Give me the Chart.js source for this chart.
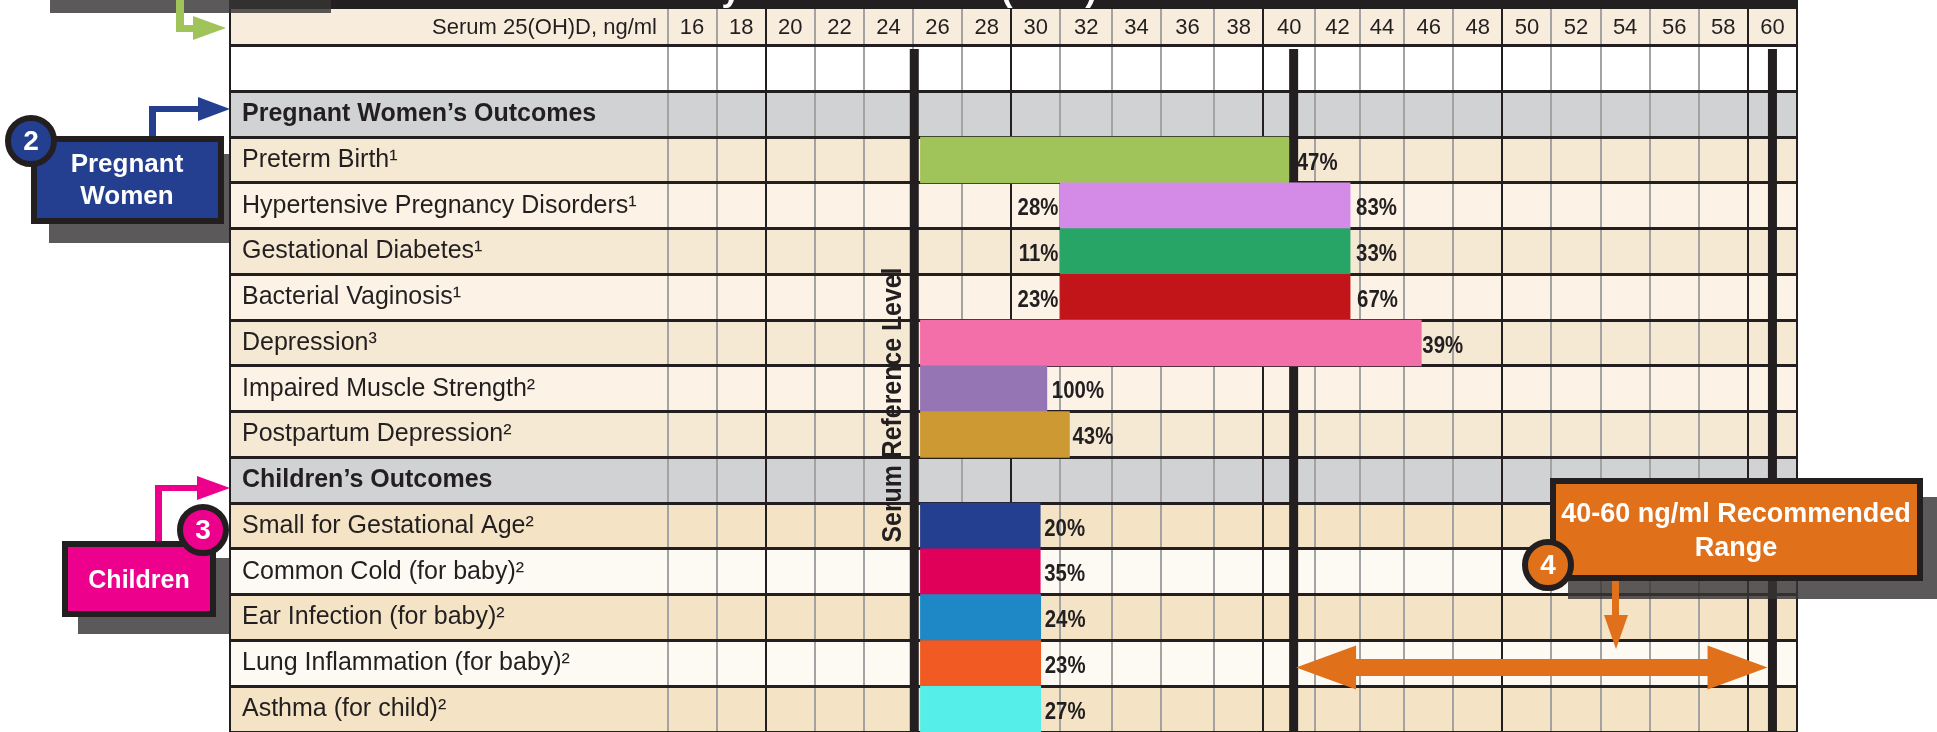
<!DOCTYPE html>
<html>
<head>
<meta charset="utf-8">
<title>Serum 25(OH)D outcomes</title>
<script src="https://cdn.jsdelivr.net/npm/chart.js@4/dist/chart.umd.js"></script>
<style>
  html, body { margin: 0; padding: 0; background: #fff; overflow: hidden; }
  canvas { display: block; }
</style>
</head>
<body>
<canvas id="myChart" width="1937" height="732"></canvas>
<script>
// rows top to bottom, blank first row under the header
const categories = [
  " ",
  "Pregnant Women’s Outcomes",
  "Preterm Birth¹",
  "Hypertensive Pregnancy Disorders¹",
  "Gestational Diabetes¹",
  "Bacterial Vaginosis¹",
  "Depression³",
  "Impaired Muscle Strength²",
  "Postpartum Depression²",
  "Children’s Outcomes",
  "Small for Gestational Age²",
  "Common Cold (for baby)²",
  "Ear Infection (for baby)²",
  "Lung Inflammation (for baby)²",
  "Asthma (for child)²",
];
const sectionRows = ["Pregnant Women’s Outcomes", "Children’s Outcomes"];

// the printed columns are slightly uneven between 32 and 44
const barStarts = [null, null, 25.3, 31, 31, 31, 25.3, 25.3, 25.3, null, 25.3, 25.3, 25.3, 25.3, 25.3];
const barEnds = [null, null, 40.3, 42.8, 42.8, 42.8, 45.7, 30.45, 31.37, null, 30.18, 30.18, 30.2, 30.2, 30.2];
const startLabels = ["", "", "", "28%", "11%", "23%", "", "", "", "", "", "", "", "", ""];
const endLabels = ["", "", "47%", "83%", "33%", "67%", "39%", "100%", "43%", "", "20%", "35%", "24%", "23%", "27%"];

const tickLabels = ["16", "18", "20", "22", "24", "26", "28", "30", "32", "34", "36", "38", "40", "42", "44", "46", "48", "50", "52", "54", "56", "58", "60"];
const tickCentres = [16, 18, 20, 22, 24, 26, 28, 30, 32.05, 34.1, 36.18, 38.26, 40.32, 42.29, 44.1, 46, 48, 50, 52, 54, 56, 58, 60];
const columnEdges = [15, 17, 19, 21, 23, 25, 27, 29, 31, 33.1, 35.1, 37.26, 39.26, 41.38, 43.2, 45, 47, 49, 51, 53, 55, 57, 59, 61];
const strongEdges = [19, 29, 39.26, 49, 59, 61];

const referenceLevels = [25.05, 40.5, 60];
const rangeStart = 40.6;
const rangeEnd = 59.8;

const barColors = ["", "", "#a1c45a", "#d48be8", "#27a567", "#c1151a", "#f26fa9", "#9575b4", "#cc9933", "", "#243f8f", "#e0005a", "#1e88c7", "#f15a22", "#56eee8"];
const rowColors = ["#ffffff", "#d0d2d4", "#f5e9d3", "#fcf3e6", "#f5e9d3", "#fcf3e6", "#f5e9d3", "#fcf3e6", "#f5e9d3", "#d0d2d4", "#f4e4c5", "#fdfaf3", "#f4e4c5", "#fdfaf3", "#f4e4c5"];
// gap between bar end and its percent label
const endLabelGaps = [0, 0, 8, 6, 6, 7, 1, 5, 3, 0, 4, 4, 4, 4, 4];

const INK = "#231f20";
const ORANGE = "#e0701a";
const BLUE = "#243f8f";
const PINK = "#ec008c";
const GREEN = "#a1c45a";
const SHADOW = "rgba(55,53,52,0.82)";
const SANS = "'Liberation Sans', Arial, sans-serif";
const TABLE_LEFT = 230;

// background of every row, and the header strip above the plot
const rowBands = {
  id: "rowBands",
  beforeDraw(chart) {
    const ctx = chart.ctx;
    const y = chart.scales.y;
    const x = chart.scales.x;
    const step = y.getPixelForValue(1) - y.getPixelForValue(0);
    ctx.save();
    ctx.fillStyle = INK;
    ctx.fillRect(TABLE_LEFT, 0, x.right - TABLE_LEFT + 1, 10);
    ctx.fillStyle = "#f8eddc";
    ctx.fillRect(TABLE_LEFT, 9, x.right - TABLE_LEFT, chart.chartArea.top - 9);
    rowColors.forEach((c, i) => {
      ctx.fillStyle = c;
      ctx.fillRect(TABLE_LEFT, y.getPixelForValue(i) - step / 2, x.right - TABLE_LEFT, step);
    });
    ctx.restore();
  },
};

// thick reference lines go behind the bars
const referenceLines = {
  id: "referenceLines",
  beforeDatasetsDraw(chart) {
    const ctx = chart.ctx;
    const x = chart.scales.x;
    ctx.save();
    ctx.fillStyle = INK;
    referenceLevels.forEach((v) => {
      ctx.fillRect(x.getPixelForValue(v) - 4.5, 49, 9, chart.chartArea.bottom - 49);
    });
    ctx.restore();
  },
};

const drawArrowHead = (ctx, tipX, tipY, dx, dy, length, half) => {
  ctx.beginPath();
  ctx.moveTo(tipX, tipY);
  ctx.lineTo(tipX - dx * length - dy * half, tipY - dy * length - dx * half);
  ctx.lineTo(tipX - dx * length + dy * half, tipY - dy * length + dx * half);
  ctx.closePath();
  ctx.fill();
};

const drawBox = (ctx, x, y, w, h, fill) => {
  ctx.fillStyle = INK;
  ctx.fillRect(x, y, w, h);
  ctx.fillStyle = fill;
  ctx.fillRect(x + 6, y + 6, w - 12, h - 12);
};

const drawBadge = (ctx, x, y, fill, text) => {
  ctx.beginPath();
  ctx.arc(x, y, 23, 0, Math.PI * 2);
  ctx.fillStyle = fill;
  ctx.fill();
  ctx.lineWidth = 6;
  ctx.strokeStyle = INK;
  ctx.stroke();
  ctx.fillStyle = "#fff";
  ctx.font = "bold 28px " + SANS;
  ctx.fillText(text, x, y + 1);
};

// the poster's percent figures are a tall squeezed bold
const drawSqueezed = (ctx, text, x, y, align) => {
  ctx.save();
  ctx.translate(x, y);
  ctx.scale(0.85, 1);
  ctx.textAlign = align;
  ctx.fillText(text, 0, 0);
  ctx.restore();
};

// percent labels, header caption and the call-outs round the table
const annotations = {
  id: "annotations",
  afterDraw(chart) {
    const ctx = chart.ctx;
    const x = chart.scales.x;
    const bars = chart.getDatasetMeta(0).data;
    ctx.save();
    ctx.textBaseline = "middle";

    ctx.fillStyle = INK;
    ctx.fillRect(TABLE_LEFT - 1, 0, 2, chart.chartArea.bottom);

    ctx.font = "bold 24px " + SANS;
    bars.forEach((bar, i) => {
      if (startLabels[i]) {
        drawSqueezed(ctx, startLabels[i], bar.base - 2, bar.y + 3, "right");
      }
      if (endLabels[i]) {
        drawSqueezed(ctx, endLabels[i], bar.x + endLabelGaps[i], bar.y + 3, "left");
      }
    });

    ctx.textAlign = "right";
    ctx.font = "22px " + SANS;
    ctx.fillText("Serum 25(OH)D, ng/ml", 657, 28);

    ctx.save();
    ctx.translate(901, 405);
    ctx.rotate(-Math.PI / 2);
    ctx.font = "bold 28px " + SANS;
    ctx.scale(275 / ctx.measureText("Serum Reference Level").width, 1);
    ctx.textAlign = "center";
    ctx.textBaseline = "alphabetic";
    ctx.fillText("Serum Reference Level", 0, 0);
    ctx.restore();

    // title of the poster is cut off by the crop, only descenders are left
    ctx.save();
    ctx.beginPath();
    ctx.rect(TABLE_LEFT, 0, x.right - TABLE_LEFT, 9);
    ctx.clip();
    ctx.fillStyle = "#fff";
    ctx.font = "bold 34px " + SANS;
    ctx.textBaseline = "alphabetic";
    ctx.textAlign = "center";
    ctx.fillText("y", 731, 1);
    ctx.fillText("(", 1007, 1);
    ctx.fillText(")", 1091, 1);
    ctx.restore();

    // green arrow from the cropped box at the top
    ctx.fillStyle = SHADOW;
    ctx.fillRect(50, 0, 281, 13);
    ctx.fillStyle = GREEN;
    ctx.fillRect(176, 0, 8, 31);
    ctx.fillRect(176, 25, 20, 7);
    drawArrowHead(ctx, 226, 28, 1, 0, 33, 12);

    // pregnant women
    ctx.fillStyle = SHADOW;
    ctx.fillRect(49, 154, 180, 89);
    ctx.fillStyle = BLUE;
    ctx.fillRect(149, 106, 7, 31);
    ctx.fillRect(149, 106, 50, 6);
    drawArrowHead(ctx, 230, 109, 1, 0, 32, 12);
    drawBox(ctx, 31, 136, 193, 88, BLUE);
    ctx.textAlign = "center";
    ctx.fillStyle = "#fff";
    ctx.font = "bold 26px " + SANS;
    ctx.fillText("Pregnant", 127, 165);
    ctx.fillText("Women", 127, 197);
    drawBadge(ctx, 31, 141, BLUE, "2");

    // children
    ctx.fillStyle = SHADOW;
    ctx.fillRect(78, 558, 151, 76);
    ctx.fillStyle = PINK;
    ctx.fillRect(155, 485, 7, 57);
    ctx.fillRect(155, 485, 45, 6);
    drawArrowHead(ctx, 230, 488, 1, 0, 33, 12);
    drawBox(ctx, 62, 541, 154, 76, PINK);
    ctx.fillStyle = "#fff";
    ctx.font = "bold 25px " + SANS;
    ctx.fillText("Children", 139, 581);
    drawBadge(ctx, 203, 530, PINK, "3");

    // recommended range
    ctx.fillStyle = SHADOW;
    ctx.fillRect(1568, 497, 369, 102);
    ctx.fillStyle = ORANGE;
    ctx.fillRect(1612, 575, 7, 42);
    drawArrowHead(ctx, 1616, 649, 0, 1, 34, 12);
    drawBox(ctx, 1550, 478, 373, 103, ORANGE);
    ctx.fillStyle = "#fff";
    ctx.font = "bold 27px " + SANS;
    ctx.fillText("40-60 ng/ml Recommended", 1736, 515);
    ctx.fillText("Range", 1736, 549);
    drawBadge(ctx, 1548, 565, ORANGE, "4");

    const fromPx = x.getPixelForValue(rangeStart);
    const toPx = x.getPixelForValue(rangeEnd);
    ctx.fillStyle = ORANGE;
    ctx.fillRect(fromPx + 55, 659, toPx - fromPx - 110, 17);
    drawArrowHead(ctx, fromPx, 667.5, -1, 0, 60, 22);
    drawArrowHead(ctx, toPx, 667.5, 1, 0, 60, 22);

    ctx.restore();
  },
};

const chart = new Chart(document.getElementById("myChart"), {
  type: "bar",
  data: {
    labels: categories,
    datasets: [
      {
        data: barEnds.map((end, i) => (end === null ? null : [barStarts[i], end])),
        backgroundColor: barColors,
        borderWidth: 0,
        borderSkipped: false,
        barPercentage: 1,
        categoryPercentage: 1,
      },
    ],
  },
  options: {
    indexAxis: "y",
    responsive: false,
    animation: false,
    events: [],
    // last row runs off the bottom of the crop
    layout: { autoPadding: false, padding: { left: 242, right: 140, top: 9, bottom: -3 } },
    plugins: { legend: { display: false }, tooltip: { enabled: false } },
    scales: {
      x: {
        type: "linear",
        position: "top",
        min: 15,
        max: 61,
        afterBuildTicks: (axis) => {
          axis.ticks = columnEdges.concat(tickCentres).sort((a, b) => a - b).map((v) => ({ value: v }));
        },
        afterFit: (axis) => {
          axis.height = 36.5;
        },
        border: { display: false },
        grid: {
          tickLength: 36.5,
          color: (c) => lineColor(c.tick),
          tickColor: (c) => lineColor(c.tick),
          lineWidth: 2,
          tickWidth: 2,
        },
        ticks: {
          autoSkip: false,
          maxRotation: 0,
          padding: -32,
          color: INK,
          font: { family: SANS, size: 22 },
          callback: (value) => {
            const i = tickCentres.indexOf(value);
            return i >= 0 ? tickLabels[i] : "";
          },
        },
      },
      y: {
        type: "category",
        afterFit: (axis) => {
          axis.width = 425.5;
          // otherwise half a label height is kept free under the last row
          axis.paddingTop = 0;
          axis.paddingBottom = 0;
        },
        border: { display: false },
        grid: {
          color: INK,
          tickColor: INK,
          lineWidth: 3,
          tickWidth: 3,
          tickLength: 437.5,
        },
        ticks: {
          autoSkip: false,
          crossAlign: "far",
          padding: 0,
          color: INK,
          font: (c) => ({
            family: SANS,
            size: 25,
            weight: sectionRows.includes(categories[c.index]) ? "bold" : "normal",
          }),
        },
      },
    },
  },
  plugins: [rowBands, referenceLines, annotations],
});

function lineColor(tick) {
  if (!tick || !columnEdges.includes(tick.value)) return "transparent";
  return strongEdges.includes(tick.value) ? INK : "#a3a3a3";
}
</script>
</body>
</html>
